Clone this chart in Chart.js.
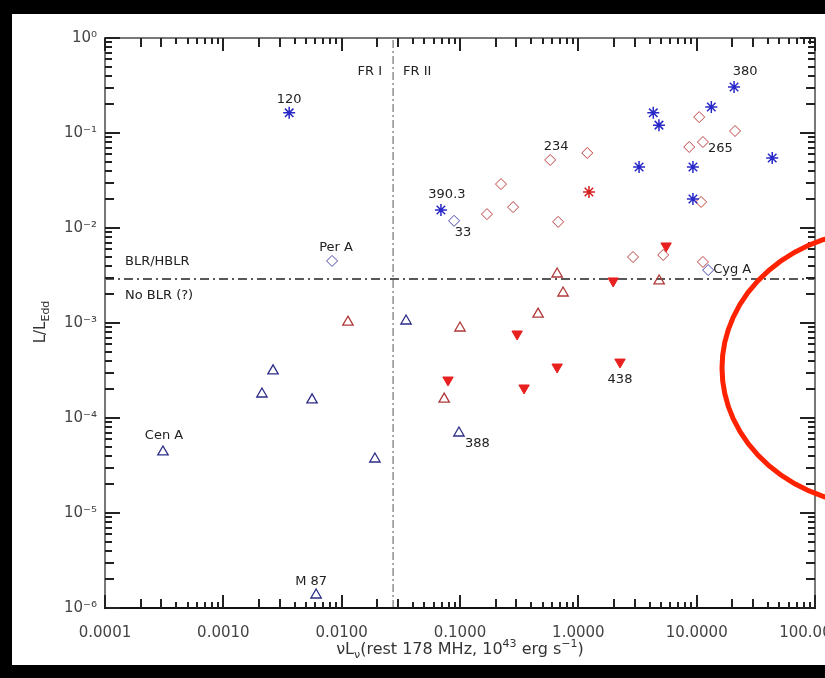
<!DOCTYPE html>
<html><head><meta charset="utf-8">
<script src="https://cdn.jsdelivr.net/npm/chart.js@4/dist/chart.umd.min.js"></script>
<style>html,body{margin:0;padding:0;background:#000;}canvas{display:block;}</style>
</head><body>
<canvas id="c" width="825" height="678"></canvas>
<script>
// ---- axis ticks ----
const xTickValues = [1e-4, 1e-3, 1e-2, 1e-1, 1, 10, 100];
const xTickLabels = ['0.0001', '0.0010', '0.0100', '0.1000', '1.0000', '10.0000', '100.0000'];
const yTickValues = [1e-6, 1e-5, 1e-4, 1e-3, 1e-2, 1e-1, 1];
const yTickLabels = ['10⁻⁶', '10⁻⁵', '10⁻⁴', '10⁻³', '10⁻²', '10⁻¹', '10⁰'];

// ---- series ----
const blueStarX = [0.0036, 0.069, 20.7, 13.3, 4.3, 4.8, 43.5, 3.26, 9.3, 9.3];
const blueStarY = [0.163, 0.0155, 0.305, 0.188, 0.163, 0.121, 0.0546, 0.0439, 0.0439, 0.0202];
const redStarX = [1.23];
const redStarY = [0.0239];
const redDiamondX = [10.5, 21.1, 8.65, 11.3, 0.578, 1.19, 0.222, 0.281, 0.169, 0.675, 10.9, 5.21, 2.90, 11.3];
const redDiamondY = [0.147, 0.105, 0.0712, 0.0804, 0.052, 0.0616, 0.029, 0.0166, 0.0140, 0.0116, 0.0188, 0.0052, 0.00495, 0.00439];
const blueDiamondX = [0.0891, 0.0083, 12.5];
const blueDiamondY = [0.0119, 0.0045, 0.00361];
const redOpenTriX = [0.0113, 0.1, 0.662, 4.82, 0.743, 0.457, 0.0735];
const redOpenTriY = [0.00102, 0.000886, 0.00328, 0.00277, 0.00207, 0.00124, 0.000158];
const redFilledTriX = [5.52, 1.97, 0.304, 0.0792, 0.662, 2.25, 0.348];
const redFilledTriY = [0.00647, 0.00277, 0.000766, 0.000251, 0.000344, 0.000388, 0.000207];
const blueOpenTriX = [0.035, 0.00263, 0.00212, 0.00562, 0.098, 0.000309, 0.0191, 0.00608];
const blueOpenTriY = [0.00105, 0.000313, 0.000179, 0.000155, 6.95e-5, 4.39e-5, 3.7e-5, 1.37e-6];

// ---- divisions ----
const frDivide = 0.0272;   // FR I / FR II
const blrDivide = 0.0029;  // BLR/HBLR vs No BLR

// ---- source names ----
const nameText = ['120', '390.3', '33', 'Per A', '234', '265', '380', 'Cyg A', '438', '388', 'Cen A', 'M 87'];
const nameX = [0.0036, 0.069, 0.0891, 0.0083, 0.578, 11.3, 20.7, 12.5, 2.25, 0.098, 0.000309, 0.00608];
const nameY = [0.163, 0.0155, 0.0119, 0.0045, 0.052, 0.0804, 0.305, 0.00361, 0.000388, 6.95e-5, 4.39e-5, 1.37e-6];

// label placement (style, not data)
const nameOffset = [[0,-13,'center'],[6,-15,'center'],[9,12,'center'],[4,-13,'center'],[6,-13,'center'],
  [5,7,'left'],[11,-15,'center'],[5,0,'left'],[0,18,'center'],[6,11,'left'],[1,-16,'center'],[-5,-13,'center']];

const pts = (xs, ys) => xs.map((x, i) => ({x: x, y: ys[i]}));
const FONT = 'DejaVu Sans';

function richText(ctx, parts, x, y, align) {
  let w = 0;
  parts.forEach(p => { ctx.font = p[1] + 'px "' + FONT + '"'; w += ctx.measureText(p[0]).width; });
  let cx = align === 'center' ? x - w / 2 : x;
  parts.forEach(p => {
    ctx.font = p[1] + 'px "' + FONT + '"';
    ctx.fillText(p[0], cx, y + (p[2] || 0));
    cx += ctx.measureText(p[0]).width;
  });
}

const decor = {
  id: 'decor',
  beforeDraw(chart) {
    const ctx = chart.ctx;
    ctx.save();
    ctx.fillStyle = '#000';
    ctx.fillRect(0, 0, chart.width, chart.height);
    ctx.fillStyle = '#fff';
    ctx.fillRect(12, 14, chart.width - 12, 651);
    ctx.restore();
  },
  afterDraw(chart) {
    const ctx = chart.ctx, a = chart.chartArea, xs = chart.scales.x, ys = chart.scales.y;
    ctx.save();
    const L = Math.round(a.left), R = Math.round(a.right), T = Math.round(a.top), B = Math.round(a.bottom);
    // box
    ctx.fillStyle = '#777';
    ctx.fillRect(L - 1, T - 1, R - L + 2, 2);
    ctx.fillRect(L - 1, T - 1, 2, B - T + 2);
    ctx.fillRect(R - 1, T - 1, 2, B - T + 2);
    ctx.fillStyle = '#111';
    ctx.fillRect(L - 1, B - 1, R - L + 2, 2);
    // ticks, inward on all four sides
    const xv = [], yv = [];
    for (let e = -4; e <= 2; e++) for (let m = 1; m <= 9; m++) {
      const v = m * Math.pow(10, e);
      if (v >= 1e-4 * 0.999 && v <= 100 * 1.001) xv.push([v, m]);
    }
    for (let e = -6; e <= 0; e++) for (let m = 1; m <= 9; m++) {
      const v = m * Math.pow(10, e);
      if (v >= 1e-6 * 0.999 && v <= 1.001) yv.push([v, m]);
    }
    ctx.fillStyle = '#222';
    xv.forEach(([v, m]) => {
      const px = Math.round(xs.getPixelForValue(v));
      const len = m === 1 ? 13 : (m <= 3 ? 9 : 6);
      ctx.fillRect(px - 1, B - len, 2, len);
      ctx.fillRect(px - 1, T, 2, len);
    });
    yv.forEach(([v, m]) => {
      const py = Math.round(ys.getPixelForValue(v));
      const len = m === 1 ? 15 : (m <= 3 ? 9 : 7);
      ctx.fillRect(L, py - 1, len, 2);
      ctx.fillRect(R - len, py - 1, len, 2);
    });

    // source names
    ctx.fillStyle = '#222';
    ctx.textBaseline = 'middle';
    ctx.font = '13px "' + FONT + '"';
    nameText.forEach((t, i) => {
      const o = nameOffset[i];
      ctx.textAlign = o[2];
      ctx.fillText(t, xs.getPixelForValue(nameX[i]) + o[0], ys.getPixelForValue(nameY[i]) + o[1]);
    });
    // region labels
    const fx = xs.getPixelForValue(frDivide), by = ys.getPixelForValue(blrDivide);
    ctx.textAlign = 'right';
    ctx.fillText('FR I', fx - 11, a.top + 34);
    ctx.textAlign = 'left';
    ctx.fillText('FR II', fx + 10, a.top + 34);
    ctx.fillText('BLR/HBLR', a.left + 20, by - 17);
    ctx.fillText('No BLR (?)', a.left + 20, by + 17);

    // axis titles
    ctx.fillStyle = '#333';
    ctx.textBaseline = 'alphabetic';
    ctx.textAlign = 'left';
    richText(ctx, [['ν', 16], ['L', 16], ['ν', 11, 4], ['(rest 178 MHz, 10', 16], ['43', 11, -7], [' erg s', 16], ['−1', 11, -7], [')', 16]],
      (a.left + a.right) / 2, 654, 'center');
    ctx.save();
    ctx.translate(45, 322);
    ctx.rotate(-Math.PI / 2);
    richText(ctx, [['L/L', 15], ['Edd', 11, 4]], 0, 0, 'center');
    ctx.restore();

    // red hand-drawn ellipse annotation
    ctx.beginPath();
    ctx.strokeStyle = '#ff2200';
    ctx.lineWidth = 5;
    ctx.ellipse(882, 368, 160, 138, 0, 0, Math.PI * 2);
    ctx.stroke();
    ctx.restore();
  }
};

const tickFont = {family: FONT, size: 15};
new Chart(document.getElementById('c'), {
  type: 'scatter',
  data: {
    datasets: [
      {label: 'FR divide', data: [{x: frDivide, y: 1e-6}, {x: frDivide, y: 1}], showLine: true, pointRadius: 0,
        borderColor: '#555', borderWidth: 1, borderDash: [8, 3, 2, 3], order: 10},
      {label: 'BLR divide', data: [{x: 1e-4, y: blrDivide}, {x: 100, y: blrDivide}], showLine: true, pointRadius: 0,
        borderColor: '#222', borderWidth: 1.5, borderDash: [9, 4, 2, 4], order: 10},
      {label: 'blue asterisk', data: pts(blueStarX, blueStarY), pointStyle: 'star', pointRadius: 6,
        borderColor: '#2828c8', backgroundColor: '#2828c8', pointBorderWidth: 1.5},
      {label: 'red asterisk', data: pts(redStarX, redStarY), pointStyle: 'star', pointRadius: 6,
        borderColor: '#d42020', backgroundColor: '#d42020', pointBorderWidth: 1.5},
      {label: 'red diamond', data: pts(redDiamondX, redDiamondY), pointStyle: 'rectRot', pointRadius: 5.5,
        borderColor: '#c04040', backgroundColor: 'rgba(0,0,0,0)', pointBorderWidth: 1},
      {label: 'blue diamond', data: pts(blueDiamondX, blueDiamondY), pointStyle: 'rectRot', pointRadius: 5.5,
        borderColor: '#4848a8', backgroundColor: 'rgba(0,0,0,0)', pointBorderWidth: 1},
      {label: 'red open triangle', data: pts(redOpenTriX, redOpenTriY), pointStyle: 'triangle', pointRadius: 6,
        borderColor: '#b03838', backgroundColor: 'rgba(0,0,0,0)', pointBorderWidth: 1.3},
      {label: 'red filled triangle', data: pts(redFilledTriX, redFilledTriY), pointStyle: 'triangle', rotation: 180,
        pointRotation: 180, pointRadius: 6, borderColor: '#e82020', backgroundColor: '#e82020', pointBorderWidth: 1},
      {label: 'blue open triangle', data: pts(blueOpenTriX, blueOpenTriY), pointStyle: 'triangle', pointRadius: 6,
        borderColor: '#2c2c88', backgroundColor: 'rgba(0,0,0,0)', pointBorderWidth: 1.3}
    ]
  },
  options: {
    responsive: false,
    devicePixelRatio: 1,
    animation: false,
    layout: {padding: {top: 38, right: 10, left: 0, bottom: 0}},
    plugins: {legend: {display: false}, tooltip: {enabled: false}},
    scales: {
      x: {
        type: 'logarithmic', min: 1e-4, max: 100, position: 'bottom',
        afterBuildTicks: s => { s.ticks = xTickValues.map(v => ({value: v})); },
        afterFit: s => { s.height = 70; s.paddingLeft = 0; s.paddingRight = 0; },
        grid: {display: false, drawTicks: false}, border: {display: false},
        ticks: {autoSkip: false, maxRotation: 0, minRotation: 0, padding: 16, color: '#444', font: tickFont,
          callback: (v, i) => xTickLabels[i]}
      },
      y: {
        type: 'logarithmic', min: 1e-6, max: 1, position: 'left',
        afterBuildTicks: s => { s.ticks = yTickValues.map(v => ({value: v})); },
        afterFit: s => { s.width = 105; s.paddingTop = 0; s.paddingBottom = 0; },
        grid: {display: false, drawTicks: false}, border: {display: false},
        ticks: {autoSkip: false, padding: 8, color: '#444', font: tickFont,
          callback: (v, i) => yTickLabels[i]}
      }
    }
  },
  plugins: [decor]
});
</script>
</body></html>
